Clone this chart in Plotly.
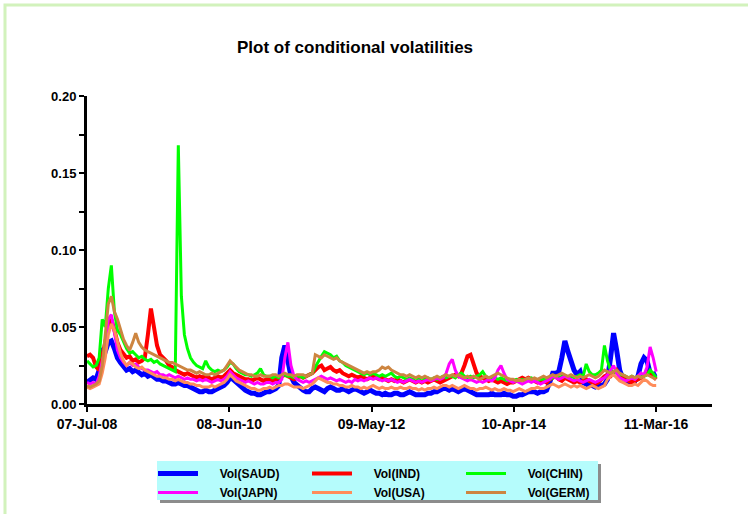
import pandas as pd
import plotly.graph_objects as go

# semi-monthly (15-day) sampling from 07-Jul-2008 to ~11-Mar-2016
dates = pd.date_range("2008-07-07", periods=188, freq="15D")

vol_saud = [
    0.014, 0.016, 0.017, 0.016, 0.022, 0.036, 0.034, 0.040, 0.041, 0.036,
    0.030, 0.027, 0.024, 0.022, 0.023, 0.021, 0.022, 0.020, 0.019, 0.020,
    0.018, 0.019, 0.017, 0.016, 0.016, 0.015, 0.015, 0.014, 0.013, 0.013,
    0.014, 0.013, 0.012, 0.012, 0.011, 0.010, 0.009, 0.008, 0.008, 0.009,
    0.008, 0.008, 0.009, 0.010, 0.011, 0.012, 0.014, 0.017, 0.016, 0.014,
    0.012, 0.010, 0.009, 0.008, 0.007, 0.007, 0.006, 0.006, 0.007, 0.008,
    0.008, 0.009, 0.010, 0.012, 0.030, 0.038, 0.028, 0.018, 0.014, 0.012,
    0.010, 0.009, 0.008, 0.008, 0.010, 0.011, 0.010, 0.009, 0.008, 0.010,
    0.011, 0.010, 0.009, 0.009, 0.010, 0.009, 0.008, 0.009, 0.010, 0.009,
    0.008, 0.007, 0.008, 0.009, 0.008, 0.007, 0.007, 0.006, 0.007, 0.006,
    0.006, 0.007, 0.007, 0.006, 0.006, 0.007, 0.008, 0.007, 0.006, 0.006,
    0.006, 0.006, 0.007, 0.007, 0.008, 0.008, 0.009, 0.010, 0.010, 0.009,
    0.010, 0.009, 0.008, 0.009, 0.010, 0.009, 0.008, 0.007, 0.006, 0.006,
    0.006, 0.006, 0.006, 0.007, 0.006, 0.006, 0.006, 0.007, 0.006, 0.006,
    0.005, 0.005, 0.006, 0.006, 0.007, 0.008, 0.008, 0.008, 0.007, 0.008,
    0.008, 0.009, 0.014, 0.020, 0.020, 0.021, 0.030, 0.041, 0.034, 0.027,
    0.022, 0.019, 0.021, 0.014, 0.013, 0.012, 0.012, 0.011, 0.012, 0.012,
    0.013, 0.016, 0.030, 0.046, 0.035, 0.022, 0.017, 0.015, 0.014, 0.015,
    0.015, 0.018, 0.026, 0.030, 0.028, 0.020, 0.019, 0.020,
]

vol_ind = [
    0.031, 0.032, 0.030, 0.024, 0.022, 0.030, 0.040, 0.050, 0.055, 0.048,
    0.040, 0.035, 0.032, 0.030, 0.031, 0.028, 0.029, 0.027, 0.028, 0.030,
    0.045, 0.062, 0.050, 0.038, 0.032, 0.030, 0.028, 0.025, 0.024, 0.022,
    0.021, 0.020, 0.019, 0.020, 0.019, 0.018, 0.017, 0.018, 0.017, 0.018,
    0.017, 0.016, 0.017, 0.018, 0.017, 0.018, 0.020, 0.022, 0.020, 0.019,
    0.018, 0.017, 0.016, 0.016, 0.015, 0.016, 0.017, 0.016, 0.015, 0.016,
    0.016, 0.015, 0.016, 0.017, 0.018, 0.019, 0.018, 0.017, 0.016, 0.017,
    0.018, 0.017, 0.018, 0.019, 0.020, 0.022, 0.024, 0.025, 0.022, 0.023,
    0.024, 0.022, 0.021, 0.022, 0.020, 0.019, 0.018, 0.019, 0.018, 0.017,
    0.018, 0.017, 0.016, 0.017, 0.018, 0.017, 0.016, 0.017, 0.016, 0.015,
    0.016, 0.015, 0.016, 0.015, 0.014, 0.015, 0.016, 0.015, 0.014, 0.015,
    0.014, 0.015, 0.014, 0.015, 0.016, 0.015, 0.014, 0.015, 0.016, 0.017,
    0.018, 0.019, 0.018, 0.020, 0.025, 0.031, 0.032, 0.025, 0.020, 0.018,
    0.017, 0.016, 0.015, 0.016, 0.015, 0.014, 0.015, 0.014, 0.013, 0.014,
    0.014, 0.015, 0.016, 0.017, 0.016, 0.017, 0.016, 0.015, 0.014, 0.015,
    0.015, 0.014, 0.016, 0.017, 0.018, 0.016, 0.015, 0.017, 0.016, 0.015,
    0.014, 0.015, 0.014, 0.015, 0.016, 0.015, 0.014, 0.013, 0.014, 0.016,
    0.018, 0.019, 0.018, 0.020, 0.022, 0.019, 0.017, 0.016, 0.015, 0.014,
    0.015, 0.016, 0.017, 0.019, 0.020, 0.021, 0.018, 0.016,
]

vol_chin = [
    0.028, 0.026, 0.024, 0.025, 0.030, 0.055, 0.050, 0.075, 0.090, 0.060,
    0.048, 0.045, 0.040, 0.036, 0.033, 0.034, 0.032, 0.030, 0.031, 0.029,
    0.028, 0.029, 0.027, 0.028, 0.026, 0.025, 0.024, 0.023, 0.022, 0.021,
    0.168, 0.070, 0.045, 0.036, 0.030, 0.027, 0.025, 0.024, 0.023, 0.028,
    0.024, 0.022, 0.021, 0.022, 0.021, 0.022, 0.024, 0.027, 0.026, 0.023,
    0.021, 0.020, 0.019, 0.019, 0.018, 0.019, 0.020, 0.023, 0.019, 0.018,
    0.018, 0.017, 0.018, 0.017, 0.018, 0.019, 0.018, 0.018, 0.017, 0.018,
    0.018, 0.017, 0.018, 0.019, 0.020, 0.024, 0.028, 0.031, 0.034, 0.033,
    0.032, 0.030, 0.031, 0.028, 0.027, 0.025, 0.024, 0.023, 0.022, 0.021,
    0.020, 0.019, 0.020, 0.019, 0.020, 0.019, 0.018, 0.019, 0.018, 0.019,
    0.020, 0.018, 0.017, 0.018, 0.017, 0.016, 0.017, 0.016, 0.017, 0.016,
    0.017, 0.016, 0.017, 0.016, 0.017, 0.016, 0.017, 0.018, 0.017, 0.018,
    0.018, 0.017, 0.019, 0.020, 0.018, 0.017, 0.018, 0.017, 0.018, 0.019,
    0.021, 0.018, 0.017, 0.016, 0.017, 0.016, 0.017, 0.016, 0.015, 0.016,
    0.015, 0.016, 0.015, 0.016, 0.015, 0.016, 0.017, 0.016, 0.015, 0.016,
    0.016, 0.017, 0.016, 0.017, 0.018, 0.017, 0.018, 0.018, 0.017, 0.018,
    0.017, 0.018, 0.019, 0.018, 0.026, 0.021, 0.019, 0.019, 0.020, 0.022,
    0.038, 0.028, 0.022, 0.021, 0.020, 0.019, 0.019, 0.018, 0.017, 0.018,
    0.017, 0.018, 0.019, 0.018, 0.019, 0.022, 0.020, 0.017,
]

vol_japn = [
    0.014, 0.013, 0.014, 0.013, 0.018, 0.028, 0.035, 0.055, 0.058, 0.045,
    0.035, 0.030, 0.027, 0.025, 0.027, 0.025, 0.026, 0.024, 0.023, 0.022,
    0.022, 0.021, 0.020, 0.021, 0.019, 0.019, 0.018, 0.019, 0.018, 0.017,
    0.018, 0.017, 0.016, 0.017, 0.016, 0.016, 0.015, 0.016, 0.015, 0.016,
    0.015, 0.014, 0.015, 0.016, 0.015, 0.016, 0.018, 0.021, 0.019, 0.017,
    0.016, 0.015, 0.014, 0.015, 0.014, 0.013, 0.014, 0.013, 0.013, 0.014,
    0.014, 0.013, 0.014, 0.014, 0.016, 0.030, 0.040, 0.025, 0.018, 0.016,
    0.015, 0.014, 0.015, 0.014, 0.015, 0.016, 0.017, 0.018, 0.017, 0.016,
    0.017, 0.016, 0.015, 0.016, 0.015, 0.014, 0.015, 0.014, 0.016, 0.015,
    0.016, 0.015, 0.016, 0.017, 0.016, 0.017, 0.016, 0.015, 0.016, 0.015,
    0.016, 0.015, 0.014, 0.015, 0.014, 0.015, 0.016, 0.015, 0.014, 0.015,
    0.014, 0.015, 0.016, 0.015, 0.016, 0.017, 0.016, 0.017, 0.020, 0.026,
    0.029, 0.022, 0.018, 0.017, 0.016, 0.015, 0.016, 0.015, 0.014, 0.015,
    0.014, 0.015, 0.016, 0.015, 0.017, 0.022, 0.025, 0.020, 0.016, 0.015,
    0.014, 0.015, 0.014, 0.013, 0.014, 0.015, 0.014, 0.015, 0.014, 0.013,
    0.014, 0.015, 0.016, 0.018, 0.017, 0.016, 0.017, 0.018, 0.017, 0.016,
    0.015, 0.016, 0.015, 0.014, 0.015, 0.016, 0.015, 0.014, 0.015, 0.016,
    0.017, 0.019, 0.022, 0.025, 0.020, 0.017, 0.016, 0.015, 0.016, 0.017,
    0.016, 0.018, 0.020, 0.019, 0.024, 0.037, 0.030, 0.021,
]

vol_usa = [
    0.011, 0.010, 0.011, 0.012, 0.013, 0.020, 0.030, 0.045, 0.052, 0.048,
    0.040, 0.033, 0.028, 0.025, 0.027, 0.026, 0.024, 0.023, 0.024, 0.022,
    0.021, 0.020, 0.019, 0.018, 0.018, 0.017, 0.017, 0.016, 0.016, 0.015,
    0.016, 0.015, 0.014, 0.014, 0.013, 0.013, 0.012, 0.012, 0.011, 0.011,
    0.011, 0.012, 0.011, 0.012, 0.013, 0.014, 0.016, 0.019, 0.017, 0.015,
    0.014, 0.013, 0.012, 0.011, 0.010, 0.010, 0.009, 0.009, 0.010, 0.010,
    0.011, 0.010, 0.011, 0.012, 0.012, 0.013, 0.013, 0.012, 0.011, 0.011,
    0.011, 0.010, 0.011, 0.012, 0.013, 0.015, 0.017, 0.016, 0.015, 0.014,
    0.014, 0.013, 0.013, 0.012, 0.012, 0.011, 0.011, 0.012, 0.011, 0.011,
    0.010, 0.011, 0.010, 0.011, 0.012, 0.011, 0.010, 0.011, 0.010, 0.010,
    0.011, 0.010, 0.010, 0.011, 0.010, 0.010, 0.011, 0.010, 0.010, 0.009,
    0.010, 0.009, 0.010, 0.010, 0.011, 0.010, 0.011, 0.012, 0.012, 0.011,
    0.012, 0.011, 0.010, 0.011, 0.012, 0.011, 0.010, 0.010, 0.009, 0.010,
    0.010, 0.011, 0.010, 0.009, 0.010, 0.009, 0.009, 0.010, 0.009, 0.009,
    0.008, 0.009, 0.010, 0.009, 0.008, 0.009, 0.010, 0.010, 0.011, 0.010,
    0.010, 0.011, 0.012, 0.013, 0.012, 0.011, 0.012, 0.013, 0.012, 0.011,
    0.012, 0.011, 0.012, 0.011, 0.010, 0.011, 0.012, 0.011, 0.010, 0.011,
    0.012, 0.016, 0.018, 0.019, 0.017, 0.015, 0.014, 0.013, 0.012, 0.012,
    0.013, 0.012, 0.014, 0.016, 0.015, 0.013, 0.012, 0.012,
]

vol_germ = [
    0.012, 0.011, 0.012, 0.013, 0.015, 0.025, 0.045, 0.065, 0.070, 0.060,
    0.055, 0.048, 0.042, 0.038, 0.035, 0.040, 0.046, 0.040, 0.037, 0.035,
    0.034, 0.033, 0.032, 0.031, 0.030, 0.029, 0.028, 0.027, 0.027, 0.026,
    0.025, 0.024, 0.023, 0.022, 0.022, 0.021, 0.020, 0.021, 0.020, 0.019,
    0.019, 0.020, 0.019, 0.020, 0.021, 0.022, 0.025, 0.028, 0.026, 0.024,
    0.022, 0.021, 0.020, 0.019, 0.019, 0.018, 0.018, 0.019, 0.018, 0.018,
    0.018, 0.019, 0.019, 0.018, 0.019, 0.020, 0.019, 0.019, 0.018, 0.019,
    0.019, 0.019, 0.018, 0.019, 0.020, 0.032, 0.031, 0.030, 0.032, 0.031,
    0.030, 0.029, 0.030, 0.028, 0.027, 0.026, 0.025, 0.024, 0.023, 0.022,
    0.021, 0.020, 0.021, 0.020, 0.021, 0.021, 0.022, 0.024, 0.023, 0.024,
    0.022, 0.021, 0.020, 0.019, 0.019, 0.018, 0.019, 0.018, 0.017, 0.018,
    0.017, 0.018, 0.017, 0.016, 0.017, 0.018, 0.017, 0.018, 0.019, 0.018,
    0.019, 0.018, 0.019, 0.018, 0.017, 0.018, 0.017, 0.018, 0.017, 0.016,
    0.017, 0.018, 0.017, 0.018, 0.019, 0.020, 0.019, 0.018, 0.017, 0.016,
    0.016, 0.015, 0.016, 0.015, 0.016, 0.017, 0.016, 0.017, 0.016, 0.017,
    0.018, 0.017, 0.018, 0.019, 0.018, 0.019, 0.020, 0.019, 0.018, 0.019,
    0.018, 0.017, 0.018, 0.017, 0.018, 0.019, 0.018, 0.017, 0.018, 0.020,
    0.022, 0.021, 0.020, 0.021, 0.022, 0.020, 0.019, 0.018, 0.017, 0.018,
    0.017, 0.018, 0.017, 0.018, 0.019, 0.018, 0.017, 0.016,
]

series_names = ["Vol(SAUD)", "Vol(IND)", "Vol(CHIN)", "Vol(JAPN)", "Vol(USA)", "Vol(GERM)"]
series_values = [vol_saud, vol_ind, vol_chin, vol_japn, vol_usa, vol_germ]
series_colors = ["#0000ff", "#ff0000", "#00ff00", "#ff00ff", "#ff8c5a", "#cd8540"]
series_widths = [5, 4, 3, 3, 3, 3]
series_legend = ["legend", "legend2", "legend3", "legend", "legend2", "legend3"]

x_tick_vals = ["2008-07-07", "2010-06-08", "2012-05-09", "2014-04-10", "2016-03-11"]
x_tick_text = ["07-Jul-08", "08-Jun-10", "09-May-12", "10-Apr-14", "11-Mar-16"]
y_tick_vals = [0, 0.025, 0.05, 0.075, 0.10, 0.125, 0.15, 0.175, 0.20]
y_tick_text = ["0.00", "", "0.05", "", "0.10", "", "0.15", "", "0.20"]

FONT = "Liberation Sans, Arial, sans-serif"

fig = go.Figure()
for name, vals, col, w, lg in zip(series_names, series_values, series_colors, series_widths, series_legend):
    fig.add_trace(go.Scatter(
        x=dates[:len(vals)], y=vals, mode="lines", name="     " + name,
        line=dict(color=col, width=w), legend=lg,
    ))

# pixel -> paper helpers (plot area: x 87..712, y 96..404)
L, R, T, B = 87, 712, 96, 404
def px(x):
    return (x - L) / (R - L)
def py(y):
    return (B - y) / (B - T)

shapes = [
    # outer light-green frame
    dict(type="rect", xref="paper", yref="paper", x0=px(5), x1=px(820), y0=py(5), y1=py(620),
         line=dict(color="#d2f2bc", width=3), fillcolor="rgba(0,0,0,0)", layer="below"),
    # legend shadow
    dict(type="rect", xref="paper", yref="paper", x0=px(160), x1=px(601), y0=py(464), y1=py(503),
         line=dict(width=0), fillcolor="#8c8c8c", layer="above"),
    # legend background
    dict(type="rect", xref="paper", yref="paper", x0=px(157), x1=px(598), y0=py(461), y1=py(500),
         line=dict(width=0), fillcolor="#b5fcfc", layer="above"),
]

leg_common = dict(orientation="v", xanchor="left", yanchor="top", bgcolor="rgba(0,0,0,0)",
                  borderwidth=0, itemwidth=40, tracegroupgap=0,
                  font=dict(family=FONT, size=12, color="black", weight="bold"))

fig.update_layout(
    width=748, height=514,
    margin=dict(l=L, r=748 - R, t=T, b=514 - B, autoexpand=False),
    paper_bgcolor="white", plot_bgcolor="white",
    title=dict(text="Plot of conditional volatilities", x=355 / 748, xanchor="center",
               y=1 - 47 / 514, yanchor="middle",
               font=dict(family=FONT, size=17, color="black", weight="bold")),
    xaxis=dict(type="date", range=["2008-07-07", "2016-12-12"], showline=True, linecolor="black",
               linewidth=3, ticks="outside", ticklen=5, tickwidth=2, tickcolor="black",
               tickvals=x_tick_vals, ticktext=x_tick_text, showgrid=False, zeroline=False,
               tickfont=dict(family=FONT, size=14, color="black", weight="bold")),
    yaxis=dict(range=[0, 0.2], showline=True, linecolor="black", linewidth=3, ticks="outside",
               ticklen=5, tickwidth=2, tickcolor="black", tickvals=y_tick_vals, ticktext=y_tick_text,
               showgrid=False, zeroline=False,
               tickfont=dict(family=FONT, size=13, color="black", weight="bold")),
    shapes=shapes,
    legend=dict(x=px(153), y=py(459), **leg_common),
    legend2=dict(x=px(307), y=py(459), **leg_common),
    legend3=dict(x=px(461), y=py(459), **leg_common),
    showlegend=True,
)

fig.write_html("out.html", config={"displayModeBar": False},
               post_script="document.body.style.margin='0';")
